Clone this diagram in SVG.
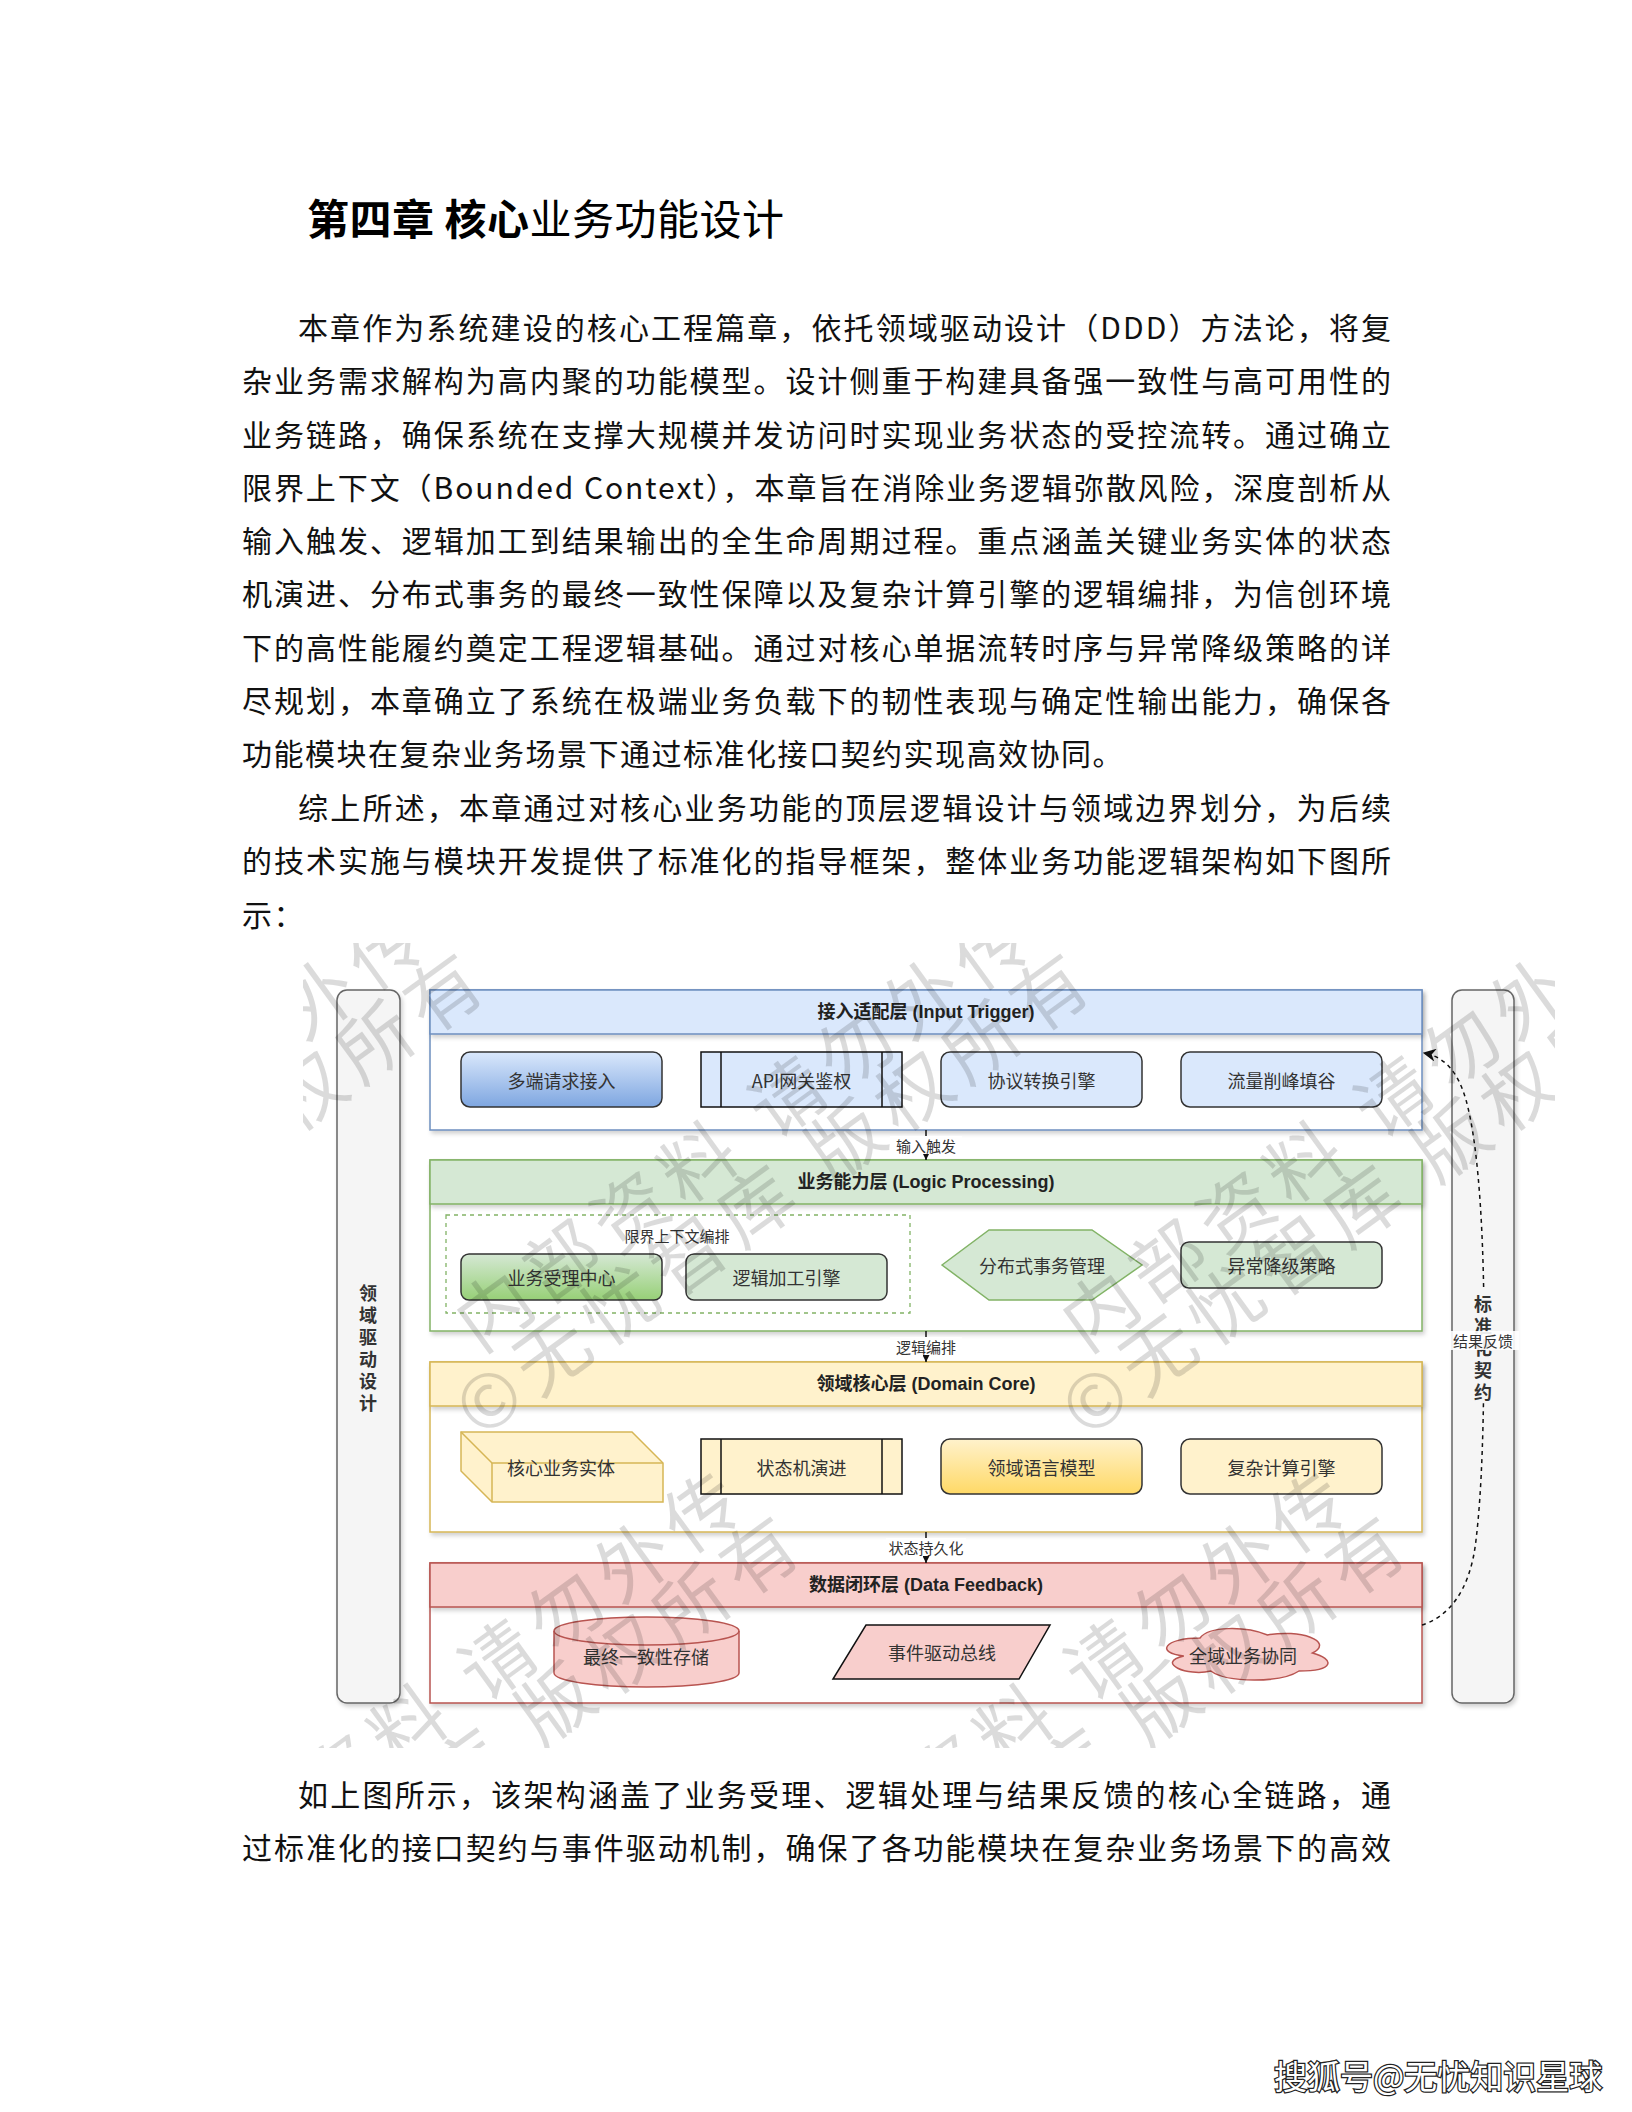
<svg xmlns="http://www.w3.org/2000/svg" width="1632" height="2112" viewBox="0 0 1632 2112">
<defs>
<style>
.body{font-family:"Noto Sans CJK SC",sans-serif;font-size:30px;fill:#111;}
.title{font-family:"Noto Sans CJK SC",sans-serif;font-size:42px;fill:#000;}
.hdr{font-family:"Liberation Sans","Noto Sans CJK SC",sans-serif;font-size:18px;font-weight:bold;fill:#222;text-anchor:middle;dominant-baseline:central;}
.nt{font-family:"Noto Sans CJK SC",sans-serif;font-size:18px;fill:#333;text-anchor:middle;dominant-baseline:central;}
.lbl{font-family:"Noto Sans CJK SC",sans-serif;font-size:15px;fill:#333;text-anchor:middle;dominant-baseline:central;}
.vt{font-family:"Noto Sans CJK SC",sans-serif;font-size:18px;font-weight:bold;fill:#333;text-anchor:middle;dominant-baseline:central;}
.wm{font-family:"Noto Sans CJK SC",sans-serif;font-size:74px;fill:#000;fill-opacity:0.14;letter-spacing:10px;}
.bar{fill:#f5f5f5;stroke:#666;stroke-width:1.5;}
.layer{fill:#fff;stroke-width:1.5;}
.nd{stroke:#333;stroke-width:1.5;}
.pr{stroke:#111;stroke-width:1.5;}
.conn{fill:none;stroke:#111;stroke-width:1.5;}
.lblbg{fill:#fff;}
</style>
<linearGradient id="gBlue" x1="0" y1="0" x2="0" y2="1"><stop offset="0" stop-color="#dae8fc"/><stop offset="1" stop-color="#7ea6e0"/></linearGradient>
<linearGradient id="gGreen" x1="0" y1="0" x2="0" y2="1"><stop offset="0" stop-color="#d5e8d4"/><stop offset="1" stop-color="#97d077"/></linearGradient>
<linearGradient id="gYellow" x1="0" y1="0" x2="0" y2="1"><stop offset="0" stop-color="#fff2cc"/><stop offset="1" stop-color="#ffd966"/></linearGradient>
<filter id="sh" x="-5%" y="-10%" width="115%" height="130%"><feDropShadow dx="2" dy="3" stdDeviation="2" flood-color="#000" flood-opacity="0.18"/></filter>
<marker id="arr" viewBox="0 0 10 10" refX="10" refY="5" markerWidth="7" markerHeight="7" markerUnits="userSpaceOnUse" orient="auto"><path d="M0,0 L10,5 L0,10 z" fill="#111"/></marker>
<marker id="arrC" viewBox="0 0 10 10" refX="9" refY="5" markerWidth="13" markerHeight="13" markerUnits="userSpaceOnUse" orient="auto"><path d="M0,0 L10,5 L0,10 L3,5 z" fill="#111"/></marker>
<clipPath id="dclip"><rect x="303" y="943" width="1252" height="805"/></clipPath>
</defs>

<rect x="0" y="0" width="1632" height="2112" fill="#fff"/>

<!-- Title -->
<text class="title" x="307" y="235" letter-spacing="0.5"><tspan font-weight="bold">第四章 核心</tspan>业务功能设计</text>

<!-- Body text -->
<g class="body">
<text x="298" y="339" textLength="1093" lengthAdjust="spacing">本章作为系统建设的核心工程篇章，依托领域驱动设计（DDD）方法论，将复</text>
<text x="242" y="392" textLength="1149" lengthAdjust="spacing">杂业务需求解构为高内聚的功能模型。设计侧重于构建具备强一致性与高可用性的</text>
<text x="242" y="446" textLength="1149" lengthAdjust="spacing">业务链路，确保系统在支撑大规模并发访问时实现业务状态的受控流转。通过确立</text>
<text x="242" y="499" textLength="1149" lengthAdjust="spacing">限界上下文（Bounded Context），本章旨在消除业务逻辑弥散风险，深度剖析从</text>
<text x="242" y="552" textLength="1149" lengthAdjust="spacing">输入触发、逻辑加工到结果输出的全生命周期过程。重点涵盖关键业务实体的状态</text>
<text x="242" y="605" textLength="1149" lengthAdjust="spacing">机演进、分布式事务的最终一致性保障以及复杂计算引擎的逻辑编排，为信创环境</text>
<text x="242" y="659" textLength="1149" lengthAdjust="spacing">下的高性能履约奠定工程逻辑基础。通过对核心单据流转时序与异常降级策略的详</text>
<text x="242" y="712" textLength="1149" lengthAdjust="spacing">尽规划，本章确立了系统在极端业务负载下的韧性表现与确定性输出能力，确保各</text>
<text x="242" y="765" letter-spacing="1.5">功能模块在复杂业务场景下通过标准化接口契约实现高效协同。</text>
<text x="298" y="819" textLength="1093" lengthAdjust="spacing">综上所述，本章通过对核心业务功能的顶层逻辑设计与领域边界划分，为后续</text>
<text x="242" y="872" textLength="1149" lengthAdjust="spacing">的技术实施与模块开发提供了标准化的指导框架，整体业务功能逻辑架构如下图所</text>
<text x="242" y="926" letter-spacing="1.5">示：</text>
<text x="298" y="1806" textLength="1093" lengthAdjust="spacing">如上图所示，该架构涵盖了业务受理、逻辑处理与结果反馈的核心全链路，通</text>
<text x="242" y="1859" textLength="1149" lengthAdjust="spacing">过标准化的接口契约与事件驱动机制，确保了各功能模块在复杂业务场景下的高效</text>
</g>

<!-- Diagram -->
<g id="left-bar">
<rect class="bar" x="337" y="990" width="63" height="713" rx="10" filter="url(#sh)"/>
<text class="vt"><tspan x="368" y="1292">领</tspan><tspan x="368" y="1314">域</tspan><tspan x="368" y="1336">驱</tspan><tspan x="368" y="1358">动</tspan><tspan x="368" y="1380">设</tspan><tspan x="368" y="1402">计</tspan></text>
</g>

<g id="right-bar">
<rect class="bar" x="1452" y="990" width="62" height="713" rx="10" filter="url(#sh)"/>
</g>

<g id="layer-input">
<rect class="layer" x="430" y="990" width="992" height="140" stroke="#6c8ebf" filter="url(#sh)"/>
<rect x="430" y="990" width="992" height="44" fill="#dae8fc" stroke="#6c8ebf" stroke-width="1.5" filter="url(#sh)"/>
<text class="hdr" x="926" y="1012">接入适配层 (Input Trigger)</text>
</g>
<g id="node-multi">
<rect class="nd" x="461" y="1052" width="201" height="55" rx="9" fill="url(#gBlue)"/>
<text class="nt" x="561.5" y="1079.5">多端请求接入</text>
</g>
<g id="node-api">
<rect class="pr" x="701" y="1052" width="201" height="55" fill="#dae8fc"/>
<line class="pr" x1="721" y1="1052" x2="721" y2="1107"/>
<line class="pr" x1="882" y1="1052" x2="882" y2="1107"/>
<text class="nt" x="801.5" y="1079.5">API网关鉴权</text>
</g>
<g id="node-proto">
<rect class="nd" x="941" y="1052" width="201" height="55" rx="9" fill="#dae8fc"/>
<text class="nt" x="1041.5" y="1079.5">协议转换引擎</text>
</g>
<g id="node-flow">
<rect class="nd" x="1181" y="1052" width="201" height="55" rx="9" fill="#dae8fc"/>
<text class="nt" x="1281.5" y="1079.5">流量削峰填谷</text>
</g>

<g id="layer-logic">
<rect class="layer" x="430" y="1160" width="992" height="171" stroke="#82b366" filter="url(#sh)"/>
<rect x="430" y="1160" width="992" height="44" fill="#d5e8d4" stroke="#82b366" stroke-width="1.5" filter="url(#sh)"/>
<text class="hdr" x="926" y="1182">业务能力层 (Logic Processing)</text>
</g>
<g id="group-bounded">
<rect x="446" y="1215" width="464" height="98" fill="none" stroke="#82b366" stroke-width="1.3" stroke-dasharray="4 4"/>
<text class="lbl" x="677" y="1235">限界上下文编排</text>
</g>
<g id="node-accept">
<rect class="nd" x="461" y="1254" width="201" height="46" rx="8" fill="url(#gGreen)"/>
<text class="nt" x="561.5" y="1277">业务受理中心</text>
</g>
<g id="node-logic">
<rect class="nd" x="686" y="1254" width="201" height="46" rx="8" fill="#d5e8d4"/>
<text class="nt" x="786.5" y="1277">逻辑加工引擎</text>
</g>
<g id="node-dtx">
<polygon points="942,1265 989,1230 1092,1230 1142,1265 1092,1300 989,1300" fill="#d5e8d4" stroke="#82b366" stroke-width="1.5"/>
<text class="nt" x="1042" y="1265">分布式事务管理</text>
</g>
<g id="node-degrade">
<rect class="nd" x="1181" y="1242" width="201" height="46" rx="8" fill="#d5e8d4"/>
<text class="nt" x="1281.5" y="1265">异常降级策略</text>
</g>

<g id="layer-domain">
<rect class="layer" x="430" y="1362" width="992" height="170" stroke="#d6b656" filter="url(#sh)"/>
<rect x="430" y="1362" width="992" height="44" fill="#fff2cc" stroke="#d6b656" stroke-width="1.5" filter="url(#sh)"/>
<text class="hdr" x="926" y="1384">领域核心层 (Domain Core)</text>
</g>
<g id="node-entity">
<polygon points="461,1432 632,1432 663,1463 663,1502 492,1502 461,1471" fill="#fff2cc" stroke="#d6b656" stroke-width="1.5"/>
<polyline points="461,1432 492,1463 663,1463" fill="none" stroke="#d6b656" stroke-width="1.5"/>
<line x1="492" y1="1463" x2="492" y2="1502" stroke="#d6b656" stroke-width="1.5"/>
<text class="nt" x="561" y="1467">核心业务实体</text>
</g>
<g id="node-fsm">
<rect class="pr" x="701" y="1439" width="201" height="55" fill="#fff2cc"/>
<line class="pr" x1="721" y1="1439" x2="721" y2="1494"/>
<line class="pr" x1="882" y1="1439" x2="882" y2="1494"/>
<text class="nt" x="801.5" y="1466.5">状态机演进</text>
</g>
<g id="node-dsl">
<rect class="nd" x="941" y="1439" width="201" height="55" rx="9" fill="url(#gYellow)"/>
<text class="nt" x="1041.5" y="1466.5">领域语言模型</text>
</g>
<g id="node-calc">
<rect class="nd" x="1181" y="1439" width="201" height="55" rx="9" fill="#fff2cc"/>
<text class="nt" x="1281.5" y="1466.5">复杂计算引擎</text>
</g>

<g id="layer-data">
<rect class="layer" x="430" y="1563" width="992" height="140" stroke="#b85450" filter="url(#sh)"/>
<rect x="430" y="1563" width="992" height="44" fill="#f8cecc" stroke="#b85450" stroke-width="1.5" filter="url(#sh)"/>
<text class="hdr" x="926" y="1585">数据闭环层 (Data Feedback)</text>
</g>
<g id="node-store">
<path d="M554,1631 A92.5,14 0 0 1 739,1631 L739,1673 A92.5,14 0 0 1 554,1673 Z" fill="#f8cecc" stroke="#b85450" stroke-width="1.5"/>
<path d="M554,1631 A92.5,14 0 0 0 739,1631" fill="none" stroke="#b85450" stroke-width="1.5"/>
<text class="nt" x="646" y="1656">最终一致性存储</text>
</g>
<g id="node-bus">
<polygon points="866,1625 1050,1625 1019,1679 833,1679" fill="#f8cecc" stroke="#111" stroke-width="1.5"/>
<text class="nt" x="942" y="1652">事件驱动总线</text>
</g>
<g id="node-collab">
<path d="M1200,1638 C1164,1638 1155,1653 1183.8,1656 C1155,1662.6 1187.4,1677 1210.8,1671 C1227,1683 1281,1683 1299,1671 C1335,1671 1335,1659 1312.5,1653 C1335,1641 1299,1629 1267.5,1635 C1245,1626 1209,1626 1200,1638 Z" fill="#f8cecc" stroke="#b85450" stroke-width="1.5"/>
<text class="nt" x="1243" y="1655">全域业务协同</text>
</g>

<g id="connectors">
<line class="conn" x1="926" y1="1130" x2="926" y2="1160" marker-end="url(#arr)"/>
<line class="conn" x1="926" y1="1331" x2="926" y2="1362" marker-end="url(#arr)"/>
<line class="conn" x1="926" y1="1532" x2="926" y2="1563" marker-end="url(#arr)"/>
<path class="conn" d="M1422,1625 C1445,1618 1470,1595 1476,1540 C1482,1490 1484,1420 1484,1330 C1484,1250 1480,1150 1466,1100 C1458,1072 1445,1057 1424,1053" stroke-dasharray="4 4" marker-end="url(#arrC)"/>
<rect class="lblbg" x="890" y="1136" width="72" height="18"/>
<text class="lbl" x="926" y="1145">输入触发</text>
<rect class="lblbg" x="890" y="1337" width="72" height="18"/>
<text class="lbl" x="926" y="1346.5">逻辑编排</text>
<rect class="lblbg" x="886" y="1538" width="80" height="18"/>
<text class="lbl" x="926" y="1547.5">状态持久化</text>
</g>

<g id="right-bar-label">
<rect x="1470" y="1291" width="26" height="112" fill="#f5f5f5"/>
<text class="vt"><tspan x="1483" y="1302.5">标</tspan><tspan x="1483" y="1324.5">准</tspan><tspan x="1483" y="1346.5">化</tspan><tspan x="1483" y="1368.5">契</tspan><tspan x="1483" y="1390.5">约</tspan></text>
<rect x="1447" y="1331" width="72" height="19" fill="#fff" fill-opacity="0.9"/>
<text class="lbl" x="1483" y="1340.5">结果反馈</text>
</g>

<!-- image watermark -->
<g clip-path="url(#dclip)" class="wm">
<text transform="translate(-126,1354) rotate(-36)">内部资料 请勿外传</text>
<text transform="translate(-126,1440) rotate(-36)">©无忧智库 版权所有</text>
<text transform="translate(480,1354) rotate(-36)">内部资料 请勿外传</text>
<text transform="translate(480,1440) rotate(-36)">©无忧智库 版权所有</text>
<text transform="translate(1086,1354) rotate(-36)">内部资料 请勿外传</text>
<text transform="translate(1086,1440) rotate(-36)">©无忧智库 版权所有</text>
<text transform="translate(190,1917) rotate(-36)">内部资料 请勿外传</text>
<text transform="translate(190,2003) rotate(-36)">©无忧智库 版权所有</text>
<text transform="translate(796,1917) rotate(-36)">内部资料 请勿外传</text>
<text transform="translate(796,2003) rotate(-36)">©无忧智库 版权所有</text>
</g>

<!-- page watermark -->
<text x="1274" y="2089" font-family="Noto Sans CJK SC, sans-serif" font-size="33" fill="#fff" stroke="#222" stroke-width="2.5" paint-order="stroke">搜狐号@无忧知识星球</text>
</svg>
